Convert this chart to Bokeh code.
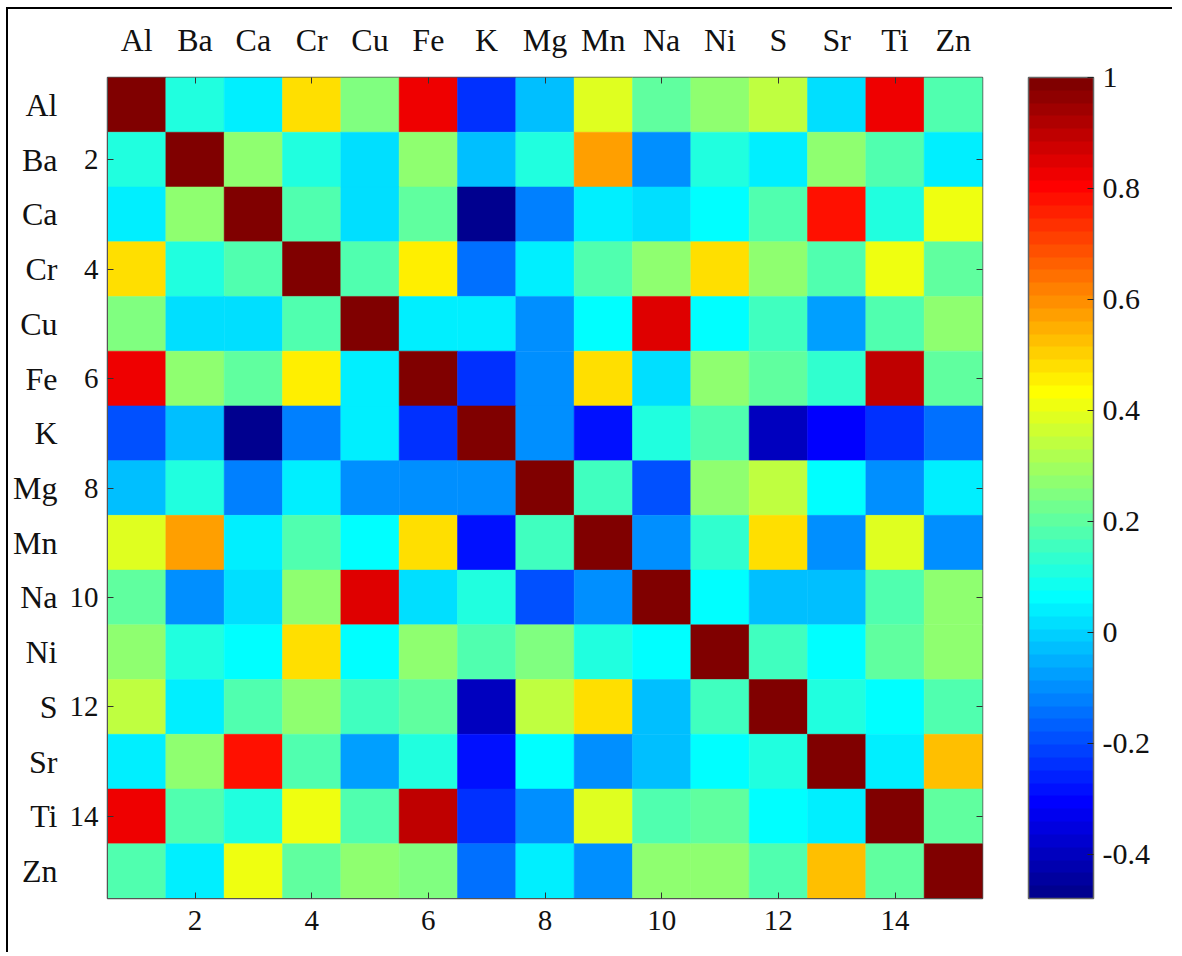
import numpy as np
from bokeh.plotting import figure
from bokeh.models import (ColumnDataSource, LinearColorMapper, ColorBar, LinearAxis,
                          FixedTicker, CustomJSTickFormatter, Range1d)
from bokeh.transform import transform
from bokeh.embed import file_html
from bokeh.resources import INLINE

elements = ["Al", "Ba", "Ca", "Cr", "Cu", "Fe", "K", "Mg", "Mn", "Na", "Ni", "S", "Sr", "Ti", "Zn"]

r_Al = [1.00, 0.10, 0.05, 0.49, 0.24, 0.82, -0.23, -0.02, 0.38, 0.21, 0.28, 0.33, 0.02, 0.82, 0.17]
r_Ba = [0.10, 1.00, 0.28, 0.10, 0.01, 0.26, -0.02, 0.10, 0.58, -0.11, 0.12, 0.04, 0.28, 0.19, 0.03]
r_Ca = [0.05, 0.28, 1.00, 0.19, 0.01, 0.21, -0.47, -0.13, 0.03, 0.01, 0.075, 0.17, 0.79, 0.12, 0.42]
r_Cr = [0.49, 0.10, 0.19, 1.00, 0.19, 0.445, -0.14, 0.05, 0.19, 0.26, 0.47, 0.26, 0.18, 0.40, 0.21]
r_Cu = [0.24, 0.01, 0.01, 0.19, 1.00, 0.05, 0.05, -0.11, 0.075, 0.84, 0.075, 0.145, -0.065, 0.17, 0.26]
r_Fe = [0.82, 0.26, 0.21, 0.445, 0.05, 1.00, -0.23, -0.09, 0.47, 0.01, 0.28, 0.21, 0.14, 0.89, 0.21]
r_K = [-0.20, -0.02, -0.47, -0.13, 0.05, -0.23, 1.00, -0.09, -0.295, 0.10, 0.19, -0.40, -0.30, -0.23, -0.155]
r_Mg = [-0.02, 0.10, -0.13, 0.05, -0.11, -0.09, -0.09, 1.00, 0.145, -0.18, 0.26, 0.33, 0.075, -0.11, 0.03]
r_Mn = [0.38, 0.58, 0.03, 0.19, 0.075, 0.47, -0.295, 0.145, 1.00, -0.09, 0.13, 0.49, -0.09, 0.38, -0.10]
r_Na = [0.21, -0.11, 0.01, 0.26, 0.84, 0.01, 0.10, -0.18, -0.09, 1.00, 0.075, -0.02, -0.04, 0.17, 0.26]
r_Ni = [0.28, 0.10, 0.075, 0.47, 0.075, 0.28, 0.19, 0.24, 0.12, 0.075, 1.00, 0.145, 0.075, 0.21, 0.26]
r_S = [0.33, 0.05, 0.17, 0.26, 0.145, 0.21, -0.40, 0.33, 0.49, -0.02, 0.145, 1.00, 0.12, 0.075, 0.17]
r_Sr = [0.03, 0.28, 0.79, 0.17, -0.065, 0.12, -0.295, 0.075, -0.09, -0.04, 0.075, 0.12, 1.00, 0.03, 0.52]
r_Ti = [0.82, 0.19, 0.12, 0.40, 0.17, 0.89, -0.23, -0.11, 0.38, 0.17, 0.21, 0.075, 0.03, 1.00, 0.21]
r_Zn = [0.17, 0.03, 0.42, 0.21, 0.26, 0.24, -0.155, 0.03, -0.09, 0.26, 0.26, 0.17, 0.52, 0.21, 1.00]

rows = [r_Al, r_Ba, r_Ca, r_Cr, r_Cu, r_Fe, r_K, r_Mg, r_Mn, r_Na, r_Ni, r_S, r_Sr, r_Ti, r_Zn]

index_ticks = [2, 4, 6, 8, 10, 12, 14]
cbar_ticks = [-0.4, -0.2, 0, 0.2, 0.4, 0.6, 0.8, 1]
c_low, c_high = -0.48, 1.0


def jet(m=64):
    n = int(np.ceil(m / 4))
    u = np.concatenate([np.arange(1, n + 1) / n, np.ones(n - 1), np.arange(n, 0, -1) / n])
    g = int(np.ceil(n / 2)) - (1 if m % 4 == 1 else 0) + np.arange(1, len(u) + 1)
    r = g + n
    b = g - n
    J = np.zeros((m, 3))
    mr = r <= m
    J[r[mr] - 1, 0] = u[mr]
    J[g - 1, 1] = u
    mb = b >= 1
    J[b[mb] - 1, 2] = u[mb]
    return ["#%02x%02x%02x" % tuple(int(round(c * 255)) for c in row) for row in J]


palette = jet(64)

xs, ys, vals = [], [], []
for i, row in enumerate(rows):
    for j, v in enumerate(row):
        xs.append(j + 1)
        ys.append(i + 1)
        vals.append(v)
src = ColumnDataSource(dict(x=xs, y=ys, v=vals))

mapper = LinearColorMapper(palette=palette, low=c_low, high=c_high)

FONT = "Liberation Serif"
TXT = "#111111"

p = figure(width=1166, height=945, output_backend="svg", toolbar_location=None,
           x_range=Range1d(0.5, 15.5), y_range=Range1d(15.5, 0.5),
           x_axis_location=None, y_axis_location=None,
           min_border_left=99, min_border_top=68, min_border_right=192, min_border_bottom=56)
p.grid.visible = False
p.outline_line_color = "#555555"
p.outline_line_width = 1.5
p.background_fill_color = "white"
p.styles = {"margin": "7px 0px 0px 6px",
            "border-left": "2px solid black", "border-top": "2px solid black"}

p.rect(x="x", y="y", width=1, height=1, source=src,
       fill_color=transform("v", mapper), line_color=transform("v", mapper), line_width=0.5)

names_map = {i + 1: n for i, n in enumerate(elements)}

# bottom numeric axis
ax_b = LinearAxis(ticker=FixedTicker(ticks=index_ticks, minor_ticks=[]))
ax_b.major_tick_in = 6
ax_b.major_tick_out = 0
ax_b.minor_tick_line_color = None
ax_b.axis_line_color = "#555555"
ax_b.major_tick_line_color = "#333333"
ax_b.major_label_text_font = FONT
ax_b.major_label_text_font_size = "29px"
ax_b.major_label_text_color = TXT
ax_b.major_label_standoff = 12
p.add_layout(ax_b, "below")

# top names axis with inner ticks at even positions
ax_t = LinearAxis(ticker=FixedTicker(ticks=list(range(1, 16)), minor_ticks=index_ticks))
ax_t.major_label_overrides = names_map
ax_t.major_tick_in = 0
ax_t.major_tick_out = 0
ax_t.minor_tick_in = 6
ax_t.minor_tick_out = 0
ax_t.minor_tick_line_color = "#333333"
ax_t.axis_line_color = None
ax_t.major_label_text_font = FONT
ax_t.major_label_text_font_size = "32px"
ax_t.major_label_text_color = TXT
ax_t.major_label_standoff = 20
p.add_layout(ax_t, "above")

# left numeric axis
ax_l = LinearAxis(ticker=FixedTicker(ticks=index_ticks, minor_ticks=[]))
ax_l.major_tick_in = 6
ax_l.major_tick_out = 0
ax_l.axis_line_color = "#555555"
ax_l.major_tick_line_color = "#333333"
ax_l.major_label_text_font = FONT
ax_l.major_label_text_font_size = "29px"
ax_l.major_label_text_color = TXT
ax_l.major_label_standoff = 9
ax_l.major_label_orientation = "horizontal"
p.add_layout(ax_l, "left")

# left names axis
ax_n = LinearAxis(ticker=FixedTicker(ticks=list(range(1, 16)), minor_ticks=[]))
ax_n.major_label_overrides = names_map
ax_n.major_tick_in = 0
ax_n.major_tick_out = 0
ax_n.axis_line_color = None
ax_n.major_label_text_font = FONT
ax_n.major_label_text_font_size = "32px"
ax_n.major_label_text_color = TXT
ax_n.major_label_standoff = 9
ax_n.major_label_orientation = "horizontal"
p.add_layout(ax_n, "left")

# right inner ticks only (minor ticks, no labels)
ax_r = LinearAxis(ticker=FixedTicker(ticks=[], minor_ticks=index_ticks))
ax_r.major_tick_line_color = None
ax_r.minor_tick_in = 6
ax_r.minor_tick_out = 0
ax_r.minor_tick_line_color = "#333333"
ax_r.axis_line_color = None
p.add_layout(ax_r, "right")

cb = ColorBar(color_mapper=mapper,
              ticker=FixedTicker(ticks=cbar_ticks, minor_ticks=[]),
              formatter=CustomJSTickFormatter(code="return String(Math.round(tick*10)/10)"),
              width=65, height=821, padding=0, margin=0, location=(921, 0),
              major_tick_in=6, major_tick_out=0, major_tick_line_color="#222222",
              bar_line_color="#666666", bar_line_width=1.5,
              major_label_text_font=FONT, major_label_text_font_size="30px",
              major_label_text_color=TXT, label_standoff=9,
              border_line_color=None, background_fill_color=None)
p.add_layout(cb, "center")

open("out.html", "w").write(file_html(p, INLINE))
